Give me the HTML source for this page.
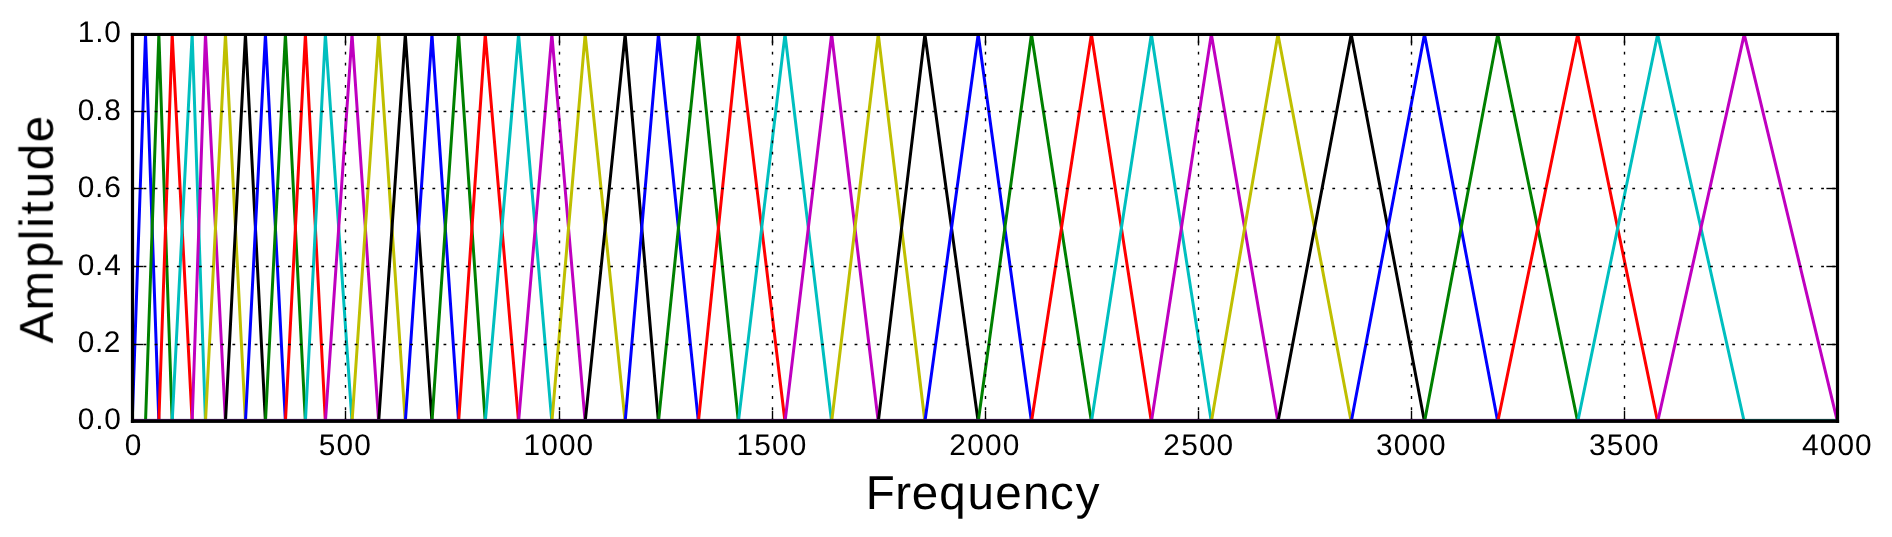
<!DOCTYPE html>
<html><head><meta charset="utf-8"><style>
html,body{margin:0;padding:0;background:#fff;overflow:hidden;}
svg{display:block;}
text{font-family:"Liberation Sans",sans-serif;fill:#000;text-rendering:geometricPrecision;}
</style></head><body>
<svg width="1892" height="537" viewBox="0 0 1892 537">
<rect x="0" y="0" width="1892" height="537" fill="#fff"/>
<defs><clipPath id="ax"><rect x="132.20" y="34.30" width="1705.30" height="387.50"/></clipPath></defs>
<g fill="none" stroke-width="3.0" stroke-linejoin="round" stroke-linecap="square" clip-path="url(#ax)">
<polyline points="132.20,421.80 145.52,34.30 158.85,421.80 1837.50,421.80" stroke="#0000ff"/>
<polyline points="132.20,421.80 145.52,421.80 158.85,34.30 172.17,421.80 1837.50,421.80" stroke="#008000"/>
<polyline points="132.20,421.80 158.85,421.80 172.17,34.30 192.15,421.80 1837.50,421.80" stroke="#ff0000"/>
<polyline points="132.20,421.80 172.17,421.80 192.15,34.30 205.47,421.80 1837.50,421.80" stroke="#00bfbf"/>
<polyline points="132.20,421.80 192.15,421.80 205.47,34.30 225.46,421.80 1837.50,421.80" stroke="#bf00bf"/>
<polyline points="132.20,421.80 205.47,421.80 225.46,34.30 245.44,421.80 1837.50,421.80" stroke="#bfbf00"/>
<polyline points="132.20,421.80 225.46,421.80 245.44,34.30 265.43,421.80 1837.50,421.80" stroke="#000000"/>
<polyline points="132.20,421.80 245.44,421.80 265.43,34.30 285.41,421.80 1837.50,421.80" stroke="#0000ff"/>
<polyline points="132.20,421.80 265.43,421.80 285.41,34.30 305.39,421.80 1837.50,421.80" stroke="#008000"/>
<polyline points="132.20,421.80 285.41,421.80 305.39,34.30 325.38,421.80 1837.50,421.80" stroke="#ff0000"/>
<polyline points="132.20,421.80 305.39,421.80 325.38,34.30 352.02,421.80 1837.50,421.80" stroke="#00bfbf"/>
<polyline points="132.20,421.80 325.38,421.80 352.02,34.30 378.67,421.80 1837.50,421.80" stroke="#bf00bf"/>
<polyline points="132.20,421.80 352.02,421.80 378.67,34.30 405.31,421.80 1837.50,421.80" stroke="#bfbf00"/>
<polyline points="132.20,421.80 378.67,421.80 405.31,34.30 431.96,421.80 1837.50,421.80" stroke="#000000"/>
<polyline points="132.20,421.80 405.31,421.80 431.96,34.30 458.61,421.80 1837.50,421.80" stroke="#0000ff"/>
<polyline points="132.20,421.80 431.96,421.80 458.61,34.30 485.25,421.80 1837.50,421.80" stroke="#008000"/>
<polyline points="132.20,421.80 458.61,421.80 485.25,34.30 518.56,421.80 1837.50,421.80" stroke="#ff0000"/>
<polyline points="132.20,421.80 485.25,421.80 518.56,34.30 551.86,421.80 1837.50,421.80" stroke="#00bfbf"/>
<polyline points="132.20,421.80 518.56,421.80 551.86,34.30 585.17,421.80 1837.50,421.80" stroke="#bf00bf"/>
<polyline points="132.20,421.80 551.86,421.80 585.17,34.30 625.14,421.80 1837.50,421.80" stroke="#bfbf00"/>
<polyline points="132.20,421.80 585.17,421.80 625.14,34.30 658.44,421.80 1837.50,421.80" stroke="#000000"/>
<polyline points="132.20,421.80 625.14,421.80 658.44,34.30 698.41,421.80 1837.50,421.80" stroke="#0000ff"/>
<polyline points="132.20,421.80 658.44,421.80 698.41,34.30 738.38,421.80 1837.50,421.80" stroke="#008000"/>
<polyline points="132.20,421.80 698.41,421.80 738.38,34.30 785.01,421.80 1837.50,421.80" stroke="#ff0000"/>
<polyline points="132.20,421.80 738.38,421.80 785.01,34.30 831.64,421.80 1837.50,421.80" stroke="#00bfbf"/>
<polyline points="132.20,421.80 785.01,421.80 831.64,34.30 878.27,421.80 1837.50,421.80" stroke="#bf00bf"/>
<polyline points="132.20,421.80 831.64,421.80 878.27,34.30 924.90,421.80 1837.50,421.80" stroke="#bfbf00"/>
<polyline points="132.20,421.80 878.27,421.80 924.90,34.30 978.19,421.80 1837.50,421.80" stroke="#000000"/>
<polyline points="132.20,421.80 924.90,421.80 978.19,34.30 1031.48,421.80 1837.50,421.80" stroke="#0000ff"/>
<polyline points="132.20,421.80 978.19,421.80 1031.48,34.30 1091.43,421.80 1837.50,421.80" stroke="#008000"/>
<polyline points="132.20,421.80 1031.48,421.80 1091.43,34.30 1151.38,421.80 1837.50,421.80" stroke="#ff0000"/>
<polyline points="132.20,421.80 1091.43,421.80 1151.38,34.30 1211.34,421.80 1837.50,421.80" stroke="#00bfbf"/>
<polyline points="132.20,421.80 1151.38,421.80 1211.34,34.30 1277.95,421.80 1837.50,421.80" stroke="#bf00bf"/>
<polyline points="132.20,421.80 1211.34,421.80 1277.95,34.30 1351.22,421.80 1837.50,421.80" stroke="#bfbf00"/>
<polyline points="132.20,421.80 1277.95,421.80 1351.22,34.30 1424.50,421.80 1837.50,421.80" stroke="#000000"/>
<polyline points="132.20,421.80 1351.22,421.80 1424.50,34.30 1497.77,421.80 1837.50,421.80" stroke="#0000ff"/>
<polyline points="132.20,421.80 1424.50,421.80 1497.77,34.30 1577.71,421.80 1837.50,421.80" stroke="#008000"/>
<polyline points="132.20,421.80 1497.77,421.80 1577.71,34.30 1657.64,421.80 1837.50,421.80" stroke="#ff0000"/>
<polyline points="132.20,421.80 1577.71,421.80 1657.64,34.30 1744.24,421.80 1837.50,421.80" stroke="#00bfbf"/>
<polyline points="132.20,421.80 1657.64,421.80 1744.24,34.30 1837.50,421.80" stroke="#bf00bf"/>
</g>
<g stroke="#000" stroke-width="1.39" stroke-dasharray="2.78 8.33" fill="none">
<line x1="345.50" y1="421.1" x2="345.50" y2="34.30"/>
<line x1="559.50" y1="421.1" x2="559.50" y2="34.30"/>
<line x1="772.50" y1="421.1" x2="772.50" y2="34.30"/>
<line x1="985.50" y1="421.1" x2="985.50" y2="34.30"/>
<line x1="1198.50" y1="421.1" x2="1198.50" y2="34.30"/>
<line x1="1411.50" y1="421.1" x2="1411.50" y2="34.30"/>
<line x1="1624.50" y1="421.1" x2="1624.50" y2="34.30"/>
<line x1="132.45" y1="344.50" x2="1837.50" y2="344.50"/>
<line x1="132.45" y1="266.50" x2="1837.50" y2="266.50"/>
<line x1="132.45" y1="188.50" x2="1837.50" y2="188.50"/>
<line x1="132.45" y1="111.50" x2="1837.50" y2="111.50"/>
</g>
<g stroke="#000" stroke-width="1.39" fill="none">
<line x1="345.50" y1="421.80" x2="345.50" y2="410.69"/>
<line x1="345.50" y1="34.30" x2="345.50" y2="45.41"/>
<line x1="559.50" y1="421.80" x2="559.50" y2="410.69"/>
<line x1="559.50" y1="34.30" x2="559.50" y2="45.41"/>
<line x1="772.50" y1="421.80" x2="772.50" y2="410.69"/>
<line x1="772.50" y1="34.30" x2="772.50" y2="45.41"/>
<line x1="985.50" y1="421.80" x2="985.50" y2="410.69"/>
<line x1="985.50" y1="34.30" x2="985.50" y2="45.41"/>
<line x1="1198.50" y1="421.80" x2="1198.50" y2="410.69"/>
<line x1="1198.50" y1="34.30" x2="1198.50" y2="45.41"/>
<line x1="1411.50" y1="421.80" x2="1411.50" y2="410.69"/>
<line x1="1411.50" y1="34.30" x2="1411.50" y2="45.41"/>
<line x1="1624.50" y1="421.80" x2="1624.50" y2="410.69"/>
<line x1="1624.50" y1="34.30" x2="1624.50" y2="45.41"/>
<line x1="132.20" y1="344.50" x2="143.31" y2="344.50"/>
<line x1="1837.50" y1="344.50" x2="1826.39" y2="344.50"/>
<line x1="132.20" y1="266.50" x2="143.31" y2="266.50"/>
<line x1="1837.50" y1="266.50" x2="1826.39" y2="266.50"/>
<line x1="132.20" y1="188.50" x2="143.31" y2="188.50"/>
<line x1="1837.50" y1="188.50" x2="1826.39" y2="188.50"/>
<line x1="132.20" y1="111.50" x2="143.31" y2="111.50"/>
<line x1="1837.50" y1="111.50" x2="1826.39" y2="111.50"/>
</g>
<rect x="132.20" y="418.9" width="1525.44" height="1.2" fill="#2a1038"/>
<rect x="1657.64" y="418.9" width="86.60" height="1.2" fill="#3a1010"/>
<rect x="1744.24" y="418.9" width="93.26" height="1.2" fill="#103838"/>
<g fill="#000">
<rect x="130.9" y="32.9" width="1708.2" height="3.1"/>
<rect x="130.9" y="420.0" width="1708.2" height="2.9"/>
<rect x="130.9" y="32.9" width="3.2" height="390"/>
<rect x="1835.9" y="32.9" width="3.2" height="390"/>
</g>
<g style="will-change:transform">
<text transform="translate(0,455) scale(1.0,1)" font-size="29.8" x="124.81" y="0">0</text>
<text transform="translate(0,455) scale(1.0,1)" font-size="29.8" x="318.83 336.61 354.28" y="0">500</text>
<text transform="translate(0,455) scale(1.0,1)" font-size="29.8" x="523.43 541.27 558.94 576.61" y="0">1000</text>
<text transform="translate(0,455) scale(1.0,1)" font-size="29.8" x="736.53 754.26 772.04 789.71" y="0">1500</text>
<text transform="translate(0,455) scale(1.0,1)" font-size="29.8" x="949.33 967.37 985.05 1002.72" y="0">2000</text>
<text transform="translate(0,455) scale(1.0,1)" font-size="29.8" x="1163.23 1181.17 1198.95 1216.62" y="0">2500</text>
<text transform="translate(0,455) scale(1.0,1)" font-size="29.8" x="1376.10 1393.73 1411.41 1429.08" y="0">3000</text>
<text transform="translate(0,455) scale(1.0,1)" font-size="29.8" x="1589.10 1606.63 1624.41 1642.08" y="0">3500</text>
<text transform="translate(0,455) scale(1.0,1)" font-size="29.8" x="1802.09 1819.76 1837.44 1855.11" y="0">4000</text>
<text transform="translate(0,42) scale(1.0,1)" font-size="29.8" x="77.65 95.20 104.31" y="0">1.0</text>
<text transform="translate(0,120) scale(1.0,1)" font-size="29.8" x="77.76 95.16 104.27" y="0">0.8</text>
<text transform="translate(0,197) scale(1.0,1)" font-size="29.8" x="77.71 95.11 104.22" y="0">0.6</text>
<text transform="translate(0,275) scale(1.0,1)" font-size="29.8" x="77.72 95.12 104.23" y="0">0.4</text>
<text transform="translate(0,352) scale(1.0,1)" font-size="29.8" x="77.65 95.04 103.78" y="0">0.2</text>
<text transform="translate(0,429) scale(1.0,1)" font-size="29.8" x="77.81 95.20 104.31" y="0">0.0</text>
<text transform="translate(0,508.8) scale(1.0,1)" font-size="47.5" x="865.76 895.14 911.84 939.17 967.44 995.29 1022.96 1049.88 1075.69" y="0">Frequency</text>
<text transform="translate(52.8,342.3) rotate(-90) scale(1.0,1)" font-size="47.5" x="-1.05 31.87 74.23 102.11 114.44 127.81 143.95 171.89 199.92" y="0">Amplitude</text>
</g>
</svg>
</body></html>
